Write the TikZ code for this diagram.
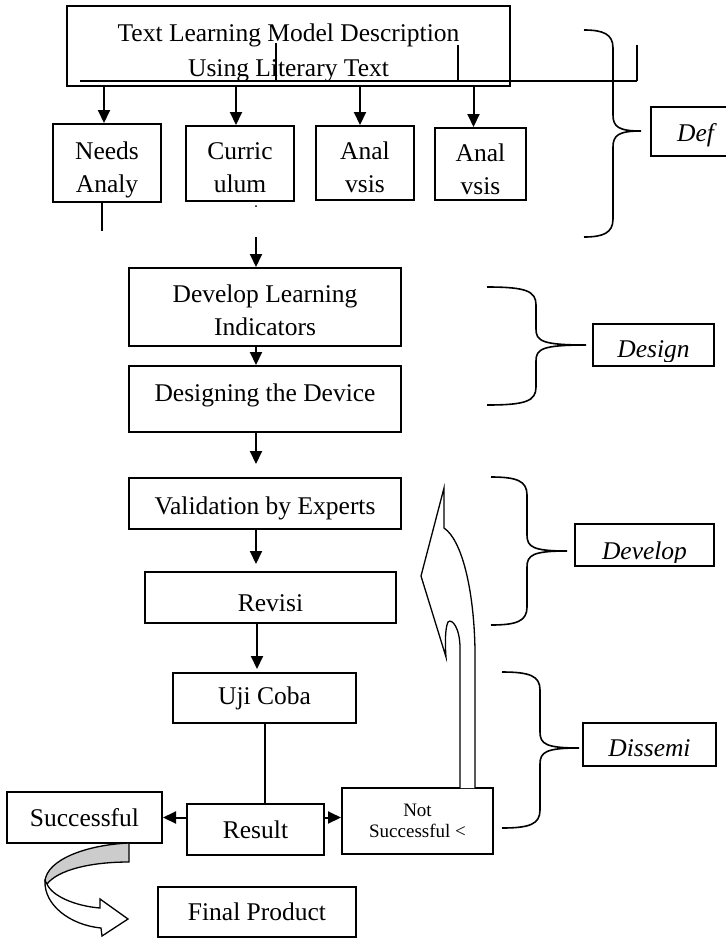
\documentclass[tikz,border=0pt]{standalone}
\usepackage{fontspec}
\setmainfont{Liberation Serif}
\usetikzlibrary{arrows.meta}
\newcommand{\boxfont}{\fontsize{25.5}{33}\selectfont}
\newcommand{\notefont}{\fontsize{19}{21}\selectfont}
\newcommand{\shifted}[2]{\raisebox{-#1}[\height][\depth]{#2}}
\newcommand{\twolines}[3]{\shifted{#1}{\begin{tabular}{@{}c@{}}#2\\#3\end{tabular}}}
\begin{document}
\begin{tikzpicture}[x=1pt,y=-1pt,line width=2pt]
        \tikzstyle{block}=[draw,rectangle,inner sep=0pt,align=center,font=\boxfont]
        \tikzstyle{phase}=[draw,rectangle,inner sep=0pt,font=\boxfont\itshape]
        \tikzstyle{arrow}=[draw,line width=2pt,-{Triangle[length=13pt,width=12pt]}]
        \tikzstyle{brace}=[draw,line width=1.6pt]
       \useasboundingbox (0,0) rectangle (726,938);
       \begin{scope}
         \node [block,minimum width=443pt,minimum height=80pt,font=\fontsize{25.5}{35}\selectfont] (model) at (288.5,46) {\twolines{5.5pt}{Text Learning Model Description}{Using Literary Text}};
         \node [block,minimum width=108pt,minimum height=78pt] (needs) at (107,163) {\twolines{6pt}{Needs}{Analy}};
         \node [block,minimum width=108pt,minimum height=75pt] (curric) at (240,163.5) {\twolines{6pt}{Curric}{ulum}};
         \node [block,minimum width=98pt,minimum height=74pt] (anal1) at (365,163) {\twolines{6pt}{Anal}{vsis}};
         \node [block,minimum width=91pt,minimum height=72pt] (anal2) at (480.5,164) {\twolines{7pt}{Anal}{vsis}};

         \node [block,minimum width=272pt,minimum height=78pt] (indic) at (265,307) {\twolines{5pt}{Develop Learning}{Indicators}};
         \node [block,minimum width=272pt,minimum height=66pt] (device) at (265,399) {\shifted{-4pt}{Designing the Device}};
         \node [block,minimum width=272pt,minimum height=51pt] (valid) at (265,503.5) {\shifted{5pt}{Validation by Experts}};
         \node [block,minimum width=251pt,minimum height=51pt] (revisi) at (270.5,597.5) {\shifted{6pt}{Revisi}};
         \node [block,minimum width=183pt,minimum height=50pt] (uji) at (264.5,698) {Uji Coba};
         \node [block,minimum width=137pt,minimum height=51pt] (result) at (255.5,829.5) {Result};
         \node [block,minimum width=155pt,minimum height=51pt] (success) at (84.5,817.5) {Successful};
         \node [block,minimum width=151pt,minimum height=66pt,font=\notefont] (fail) at (417.5,821) {Not\\Successful <};
         \node [block,minimum width=198pt,minimum height=50pt] (final) at (257,912) {Final Product};

         \node [phase,minimum width=89pt,minimum height=49pt] (define) at (695.5,131.5) {\shifted{4pt}{Def}};
         \node [phase,minimum width=121pt,minimum height=42pt] (design) at (653.5,345) {};
         \node [phase,minimum width=139pt,minimum height=42pt] (develop) at (644.5,545) {};
         \node [phase,minimum width=133pt,minimum height=43pt] (dissem) at (649.5,744.5) {\shifted{4pt}{Dissemi}};
         \begin{scope}
           \clip (design.north west) rectangle ([yshift=6pt]design.south east);
           \node [font=\boxfont\itshape,inner sep=0pt] (designtext) at (design.center) {\shifted{7pt}{Design}};
         \end{scope}
         \begin{scope}
           \clip (develop.north west) rectangle ([yshift=5pt]develop.south east);
           \node [font=\boxfont\itshape,inner sep=0pt] (developtext) at (develop.center) {\shifted{8pt}{Develop}};
         \end{scope}

         \draw[line width=1.4pt] (80,81) -- (637,81) (276,43) -- (276,81) (458,45) -- (458,81) (637,45) -- (637,81);
         \foreach \n/\dx in {needs/-3,curric/-4,anal1/-5,anal2/-7}
           \path[arrow] ([xshift=\dx pt]\n.north |- model.south) -- ([xshift=\dx pt]\n.north);

         \coordinate (needsend) at (102,231);
         \coordinate (indictop) at (256,237);
         \draw[line width=1.4pt] (needs.south -| needsend) -- (needsend);
         \fill (256,206) circle (1pt);
         \path[arrow] (indictop) -- (indictop |- indic.north);
         \path[arrow] (indic.south -| indictop) -- (device.north -| indictop);
         \path[arrow,shorten >=13pt] (device.south -| indictop) -- (valid.north -| indictop);
         \path[arrow,shorten >=7pt] (valid.south -| indictop) -- (revisi.north -| indictop);
         \path[arrow,shorten >=3pt] ([xshift=1pt]revisi.south -| indictop) -- ([xshift=1pt]uji.north -| indictop);
         \draw (uji.south) -- (uji.south |- result.north);
         \path[arrow] (result.west |- success.east) -- (success.east);
         \path[arrow] (result.east |- success.east) -- (fail.west |- success.east);

         \draw[fill=white,line width=1.3pt] (460,788) -- (460,648) .. controls (460,628) and (452,618) .. (448,622) .. controls (445,628) and (445,645) .. (446,657) -- (421,576) -- (444,488) -- (444,528) .. controls (462,540) and (474,590) .. (475,650) -- (475,788);
         \draw[fill=black!20,line width=1.3pt] (129,843) -- (129,862) .. controls (90,862) and (58,870) .. (47,884) -- (45,881) .. controls (47,860) and (85,845) .. (129,843);
         \draw[fill=white,line width=1.3pt] (45,881) .. controls (44,905) and (70,925) .. (101,928) -- (102,936) -- (128,919) -- (100,899) -- (100,908) .. controls (75,906) and (52,896) .. (47,884) -- cycle;

         \foreach \xa/\xb/\xc/\ya/\yb/\yc in {584/613/641/30/131/237,487/536/586/287/345/405,491/527/567/477/551/625,502/540/579/672/748/828}
           \path[brace] (\xa,\ya) .. controls (\xb-10,\ya) and (\xb,\ya+4) .. (\xb,\ya+18) -- (\xb,\yb-16) .. controls (\xb,\yb-4) and (\xb+6,\yb) .. (\xc,\yb) .. controls (\xb+6,\yb) and (\xb,\yb+4) .. (\xb,\yb+16) -- (\xb,\yc-18) .. controls (\xb,\yc-4) and (\xb-10,\yc) .. (\xa,\yc);
        \end{scope}
\end{tikzpicture}
\end{document}
